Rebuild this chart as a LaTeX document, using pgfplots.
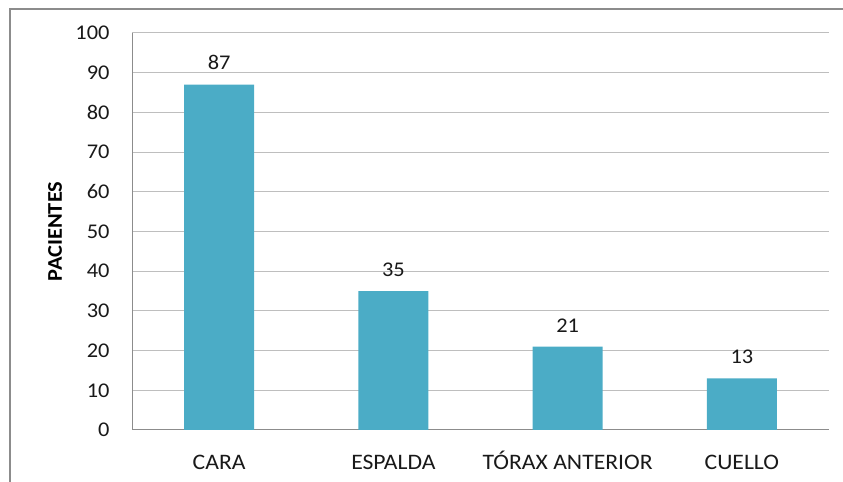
\documentclass[border=0pt]{standalone}
\usepackage{pgfplots}
\pgfplotsset{compat=1.18}
\usepackage{fontspec}
\setmainfont{Carlito}[FakeStretch=1.07]
\definecolor{barc}{RGB}{75,172,198}
\definecolor{gridc}{RGB}{190,190,190}
\definecolor{axc}{RGB}{140,140,140}
\definecolor{txt}{RGB}{25,25,25}
\begin{document}
\begin{tikzpicture}[x=1bp,y=1bp]
\path[use as bounding box] (0,0) rectangle (843,482);
\draw[color=axc, line width=2bp] (10,-10) -- (10,473) -- (860,473);
\begin{axis}[
  at={(132bp,52bp)}, anchor=south west,
  width=697bp, height=397bp, scale only axis,
  ybar, bar width=70bp,
  xmin=-0.5, xmax=3.5, ymin=0, ymax=100,
  ytick={0,10,...,100},
  xtick=data,
  xticklabels={CARA,ESPALDA,TÓRAX ANTERIOR,CUELLO},
  ymajorgrids, grid style={color=gridc, line width=1bp},
  axis x line*=bottom, axis y line*=left,
  axis line style={color=axc, line width=1bp, -},
  tick style={draw=none},
  /pgf/number format/assume math mode=true,
  yticklabel style={font=\fontsize{21}{24}\selectfont, text=txt, xshift=-19bp},
  xticklabel style={font=\fontsize{22.2}{24}\selectfont, text=txt, anchor=base, yshift=-35bp},
  ylabel={\textbf{PACIENTES}},
  every axis y label/.style={at={(axis description cs:-0.1105,0.5)}, rotate=90, anchor=center, font=\fontsize{21}{24}\selectfont, text=black},
  nodes near coords,
  every node near coord/.append style={font=\fontsize{21}{24}\selectfont, text=txt, yshift=11bp},
]
\addplot[fill=barc, draw=none] coordinates {(0,87) (1,35) (2,21) (3,13)};
\end{axis}
\end{tikzpicture}
\end{document}
